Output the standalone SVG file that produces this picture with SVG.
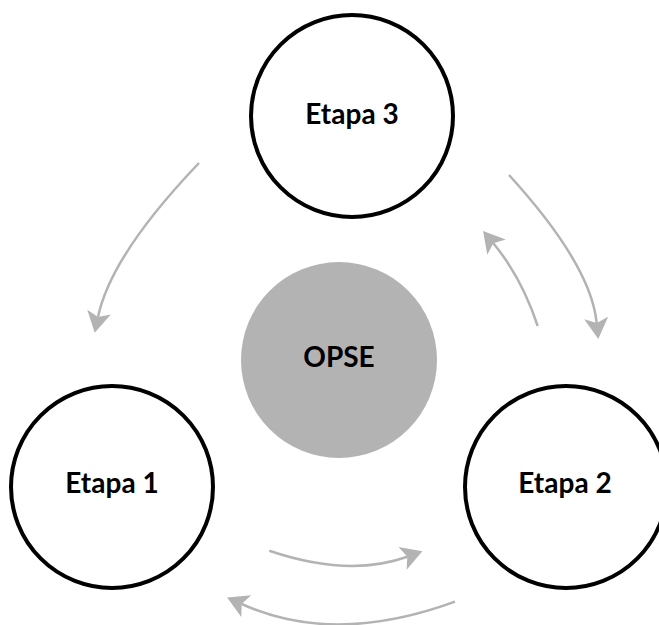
<svg xmlns="http://www.w3.org/2000/svg" width="659" height="625" viewBox="0 0 659 625">
  <style>
    .stage { fill: #ffffff; stroke: #000000; stroke-width: 4; }
    .core { fill: #b3b3b3; stroke: none; }
    .label { font-family: Lato, "Open Sans", "Liberation Sans", sans-serif; font-weight: 700; font-size: 28px; fill: #000000; text-anchor: middle; }
    .conn { fill: none; stroke: #b3b3b3; stroke-width: 2.5; marker-end: url(#head); }
  </style>
  <defs>
    <marker id="head" markerUnits="userSpaceOnUse" viewBox="-6 -13 23 26" markerWidth="23" markerHeight="26" refX="0" refY="0" orient="auto">
      <path d="M16,0 L-5,-12 L0,0 L-5,12 Z" fill="#b3b3b3"/>
    </marker>
  </defs>
  <rect width="659" height="625" fill="#ffffff"/>
  <g id="connectors">
    <path class="conn" d="M199,163 Q111,255 98,317"/>
    <path class="conn" d="M509,175 Q591,265 596.7,323"/>
    <path class="conn" d="M537.7,326 Q521.7,277.4 493.3,243.3"/>
    <path class="conn" d="M269.3,550.7 Q348.9,577.7 407.3,556.7"/>
    <path class="conn" d="M455,601.7 Q334.3,646 241.7,604"/>
  </g>
  <g id="node-opse">
    <circle class="core" cx="339" cy="360" r="98"/>
    <text class="label" x="339" y="366.7">OPSE</text>
  </g>
  <g id="node-etapa3">
    <circle class="stage" cx="352" cy="116" r="101"/>
    <text class="label" x="352" y="124">Etapa 3</text>
  </g>
  <g id="node-etapa1">
    <circle class="stage" cx="112" cy="487" r="101"/>
    <text class="label" x="112" y="493">Etapa 1</text>
  </g>
  <g id="node-etapa2">
    <circle class="stage" cx="566" cy="487" r="101"/>
    <text class="label" x="565" y="493">Etapa 2</text>
  </g>
</svg>
